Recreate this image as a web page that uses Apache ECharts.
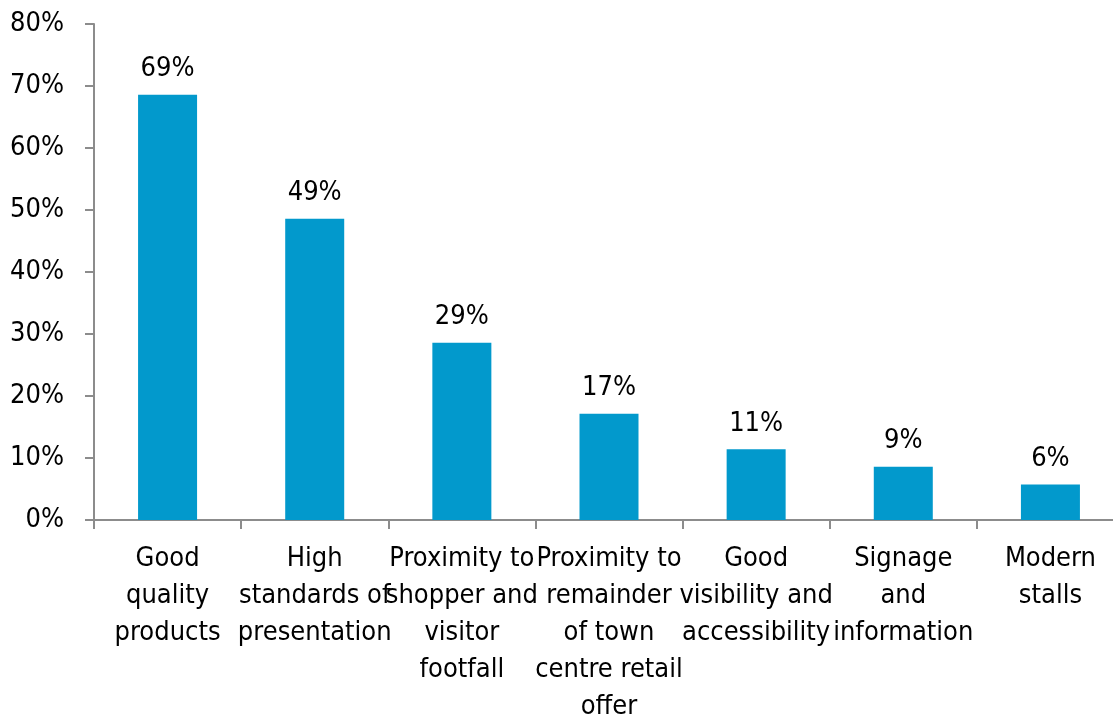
<!DOCTYPE html>
<html>
<head>
<meta charset="utf-8">
<script src="https://cdn.jsdelivr.net/npm/echarts@6/dist/echarts.min.js"></script>
<style>
  html, body { margin: 0; padding: 0; background: #fff; overflow: hidden; }
  #chart { width: 1124px; height: 719px; }
</style>
</head>
<body>
<div id="chart"></div>
<script>
// Factors rated important for a market (share of respondents, %)
const categories = [
  'Good\nquality\nproducts',
  'High\nstandards of\npresentation',
  'Proximity to\nshopper and\nvisitor\nfootfall',
  'Proximity to\nremainder\nof town\ncentre retail\noffer',
  'Good\nvisibility and\naccessibility',
  'Signage\nand\ninformation',
  'Modern\nstalls'
];
const shares = [68.57, 48.57, 28.57, 17.14, 11.43, 8.57, 5.71];
const yTicks = [0, 10, 20, 30, 40, 50, 60, 70, 80];

const FONT = '"Liberation Sans Narrow", "Arial Narrow", "DejaVu Sans Condensed", sans-serif';
const FONT_SIZE = 27;
const AXIS_GREY = '#8c8c8c';

const chart = echarts.init(document.getElementById('chart'), null, { renderer: 'canvas' });
chart.setOption({
  animation: false,
  grid: { left: 94, right: 0, top: 24, bottom: 199, containLabel: false, outerBoundsMode: 'none' },
  xAxis: {
    type: 'category',
    data: categories,
    axisLine: { lineStyle: { color: AXIS_GREY, width: 2 } },
    axisTick: { show: true, length: 9, lineStyle: { color: AXIS_GREY, width: 2 } },
    axisLabel: {
      interval: 0,
      margin: 20,
      color: '#000',
      fontFamily: FONT,
      fontSize: FONT_SIZE,
      lineHeight: 37,
      align: 'center'
    }
  },
  yAxis: {
    type: 'value',
    min: yTicks[0],
    max: yTicks[yTicks.length - 1],
    interval: 10,
    splitLine: { show: false },
    axisLine: { show: true, lineStyle: { color: AXIS_GREY, width: 2 } },
    axisTick: { show: true, length: 9, lineStyle: { color: AXIS_GREY, width: 2 } },
    axisLabel: {
      margin: 30,
      color: '#000',
      fontFamily: FONT,
      fontSize: FONT_SIZE,
      formatter: v => v + '%'
    }
  },
  series: [{
    type: 'bar',
    data: shares,
    barWidth: 59,
    itemStyle: { color: '#0299cc' },
    label: {
      show: true,
      position: 'top',
      distance: 12,
      color: '#000',
      fontFamily: FONT,
      fontSize: FONT_SIZE,
      formatter: p => Math.round(p.value) + '%'
    }
  }]
});
</script>
</body>
</html>
